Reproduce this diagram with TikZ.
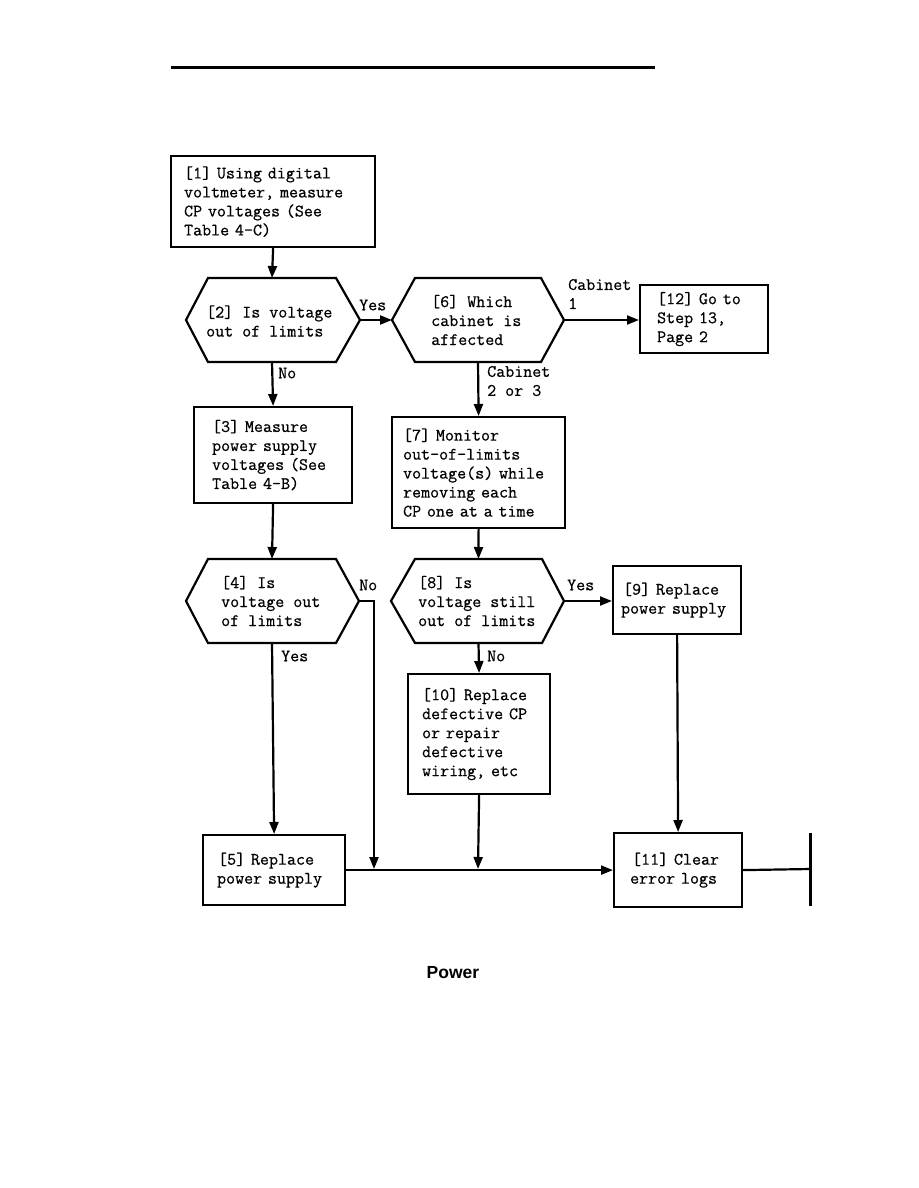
\documentclass[tikz,border=0pt]{standalone}
\usepackage{fontspec}
\newfontfamily\capfont{Liberation Sans}
\newfontfamily\tyfont{Latin Modern Mono}[FakeBold=0.6]
\usetikzlibrary{arrows.meta}
\tikzset{
  every picture/.style={x=1pt,y=-1pt},
  txt/.style={font=\tyfont\fontsize{17.5}{19}\selectfont},
  stepbox/.style={txt,draw,line width=2.2pt,align=left,anchor=north west,inner ysep=0pt},
  hexline/.style={draw,line width=2.2pt,line join=miter},
  hextext/.style={txt,align=left,anchor=west,inner sep=0pt},
  lbl/.style={txt,anchor=west,inner sep=0pt,align=left},
  conn/.style={line width=2.2pt},
  arr/.style={conn,-{Triangle[length=12pt,width=9pt]}},
}
% \mybox{name}{left}{top}{right}{bottom}{xsep}{text}
\newcommand\mybox[7]{%
  \pgfmathsetmacro\bw{#4-#2}\pgfmathsetmacro\bh{#5-#3}\pgfmathsetmacro\tw{#4-#2-2*#6}%
  \node[stepbox,minimum width=\bw pt,minimum height=\bh pt,text width=\tw pt,inner xsep=#6pt] (#1) at (#2,#3) {#7};}
% \myhex{name}{xl}{xtl}{xtr}{xr}{top}{bot}
\newcommand\myhex[7]{%
  \pgfmathsetmacro\hc{(#3+#4)/2}\pgfmathsetmacro\hm{(#6+#7)/2}%
  \coordinate (#1-w) at (#2,\hm);
  \coordinate (#1-e) at (#5,\hm);
  \coordinate (#1-n) at (\hc,#6);
  \coordinate (#1-s) at (\hc,#7);
  \draw[hexline] (#1-w) -- (#3,#6) -- (#4,#6) -- (#1-e) -- (#4,#7) -- (#3,#7) -- cycle;}
\begin{document}
\begin{tikzpicture}
\useasboundingbox (0,0) rectangle (918,1188);
% top rule
\coordinate (ruleL) at (171,68);
\coordinate (ruleR) at (655,68);
\draw[line width=3pt] (ruleL) -- (ruleR);

% boxes
\mybox{b1}{170}{155}{374}{246}{13}{[1] Using digital\\voltmeter, measure\\CP voltages (See\\Table 4-C)}
\mybox{b3}{193}{406}{351}{502}{18}{[3] Measure\\power supply\\voltages (See\\Table 4-B)}
\mybox{b7}{391}{416}{564}{527}{11}{[7] Monitor\\out-of-limits\\voltage(s) while\\removing each\\CP one at a time}
\mybox{b12}{639}{284}{767}{352}{17}{[12] Go to\\Step 13,\\Page 2}
\mybox{b9}{612}{565}{740}{633}{8}{\hspace*{2pt}[9] Replace\\power supply}
\mybox{b10}{407}{673}{549}{793}{14}{[10] Replace\\defective CP\\or repair\\defective\\wiring, etc}
\mybox{b5}{202}{834}{344}{904}{14}{\hspace*{1pt}[5] Replace\\power supply}
\mybox{b11}{613}{832}{741}{906}{16}{\hspace*{2pt}[11] Clear\\error logs}

% hexagons
\myhex{h2}{186}{208}{336}{360}{278}{362}
\myhex{h6}{392}{415}{541}{564}{278}{362}
\myhex{h4}{186}{208}{336}{359}{559}{643}
\myhex{h8}{391}{415}{542}{564}{559}{643}
\node[hextext] (t2) at (206,321) {[2] Is voltage\\out of limits};
\node[hextext] (t6) at (431,320) {[6] Which\\cabinet is\\affected};
\node[hextext] (t4) at (221,601) {[4] Is\\voltage out\\of limits};
\node[hextext] (t8) at (418,601) {[8] Is\\voltage still\\out of limits};

% connectors
\draw[arr] (b1.south) -- (h2-n);
\draw[arr] (h2-e) -- (h6-w);
\draw[arr] (h6-e) -- (h6-e -| b12.west);
\draw[arr] (h2-s) -- (b3.north);
\draw[arr] (h6-s) -- (b7.north);
\draw[arr] (b3.south) -- (h4-n);
\draw[arr] (b7.south) -- (h8-n);
\draw[arr] (h8-e) -- (h8-e -| b9.west);
\draw[arr] (h8-s) -- (b10.north);
\draw[arr] (h4-s) -- (b5.north);
\coordinate (j1) at (374,869);
\coordinate (j2) at (478,869);
\coordinate (endbar) at (810,869);
\coordinate (endT) at (810,833);
\coordinate (endB) at (810,906);
\draw[arr] (h4-e) -| (j1);
\draw[arr] (b10.south) -- (j2);
\draw[arr] (b5.east) -- (b5.east -| b11.west);
\draw[arr] (b9.south) -- (b11.north);
\draw[conn] (b11.east) -- (endbar);
\draw[line width=3pt] (endT) -- (endB);

% labels
\node[lbl] (l1) at (359,305) {Yes};
\node[lbl] (l2) at (278,373) {No};
\node[lbl] (l3) at (568,294) {Cabinet\\1};
\node[lbl] (l4) at (487,381) {Cabinet\\2 or 3};
\node[lbl] (l5) at (359,585) {No};
\node[lbl] (l6) at (567,585) {Yes};
\node[lbl] (l7) at (281,656) {Yes};
\node[lbl] (l8) at (487,656) {No};

% caption
\node[font=\capfont\bfseries\fontsize{17.5}{20}\selectfont,inner sep=0pt] (cap) at (453,973) {Power};
\end{tikzpicture}
\end{document}
